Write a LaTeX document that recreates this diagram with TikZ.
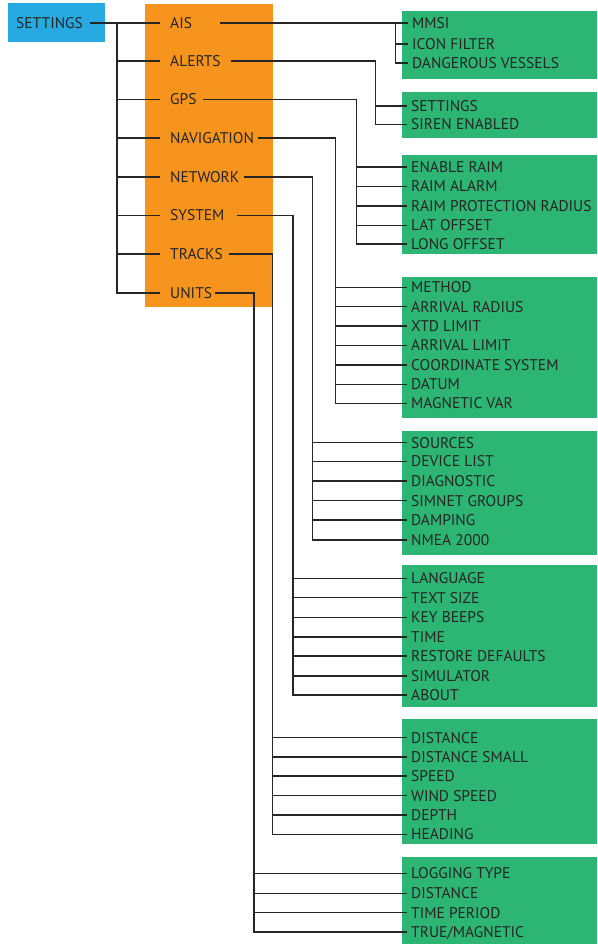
\documentclass[tikz,border=0pt]{standalone}
\usepackage{fontspec}
\setmainfont{PT Sans}
\usetikzlibrary{positioning}
\definecolor{rootblue}{RGB}{39,170,225}
\definecolor{menuorange}{RGB}{247,148,29}
\definecolor{leafgreen}{RGB}{44,181,115}
\definecolor{inkgray}{RGB}{38,38,38}

\begin{document}
\begin{tikzpicture}[
  x=1pt, y=-1pt,
  txt/.style={font=\fontsize{15.5}{17}\selectfont, text=inkgray, text height=10.8pt, text depth=0pt},
  rootbox/.style={txt, fill=rootblue, anchor=west, text width=81pt, inner xsep=8pt, inner ysep=0pt, minimum height=39pt, align=left},
  menu/.style={txt, anchor=west, inner sep=0pt},
  leaf/.style={txt, anchor=west, inner xsep=4pt, inner ysep=0pt},
  link/.style={draw=inkgray, line width=1.5pt}
]
  \useasboundingbox (0,0) rectangle (597,944);

  % Panels
  \fill[menuorange] (145,4) rectangle (273,307);
  \fill[leafgreen] (402,10.7) rectangle (597,79);
  \fill[leafgreen] (402,92) rectangle (597,138);
  \fill[leafgreen] (402,155) rectangle (597,254);
  \fill[leafgreen] (402,276.7) rectangle (597,418);
  \fill[leafgreen] (402,430.7) rectangle (597,554.7);
  \fill[leafgreen] (402,565) rectangle (597,706.7);
  \fill[leafgreen] (402,718.7) rectangle (597,844);
  \fill[leafgreen] (402,856.7) rectangle (597,944);

  % Root
  \node[rootbox] (settings) at (8,23) {SETTINGS};

  % Main menu
  \node[menu] (ais) at (170,23) {AIS};
  \node[menu] (alerts) at (170,61) {ALERTS};
  \node[menu] (gps) at (170,99.5) {GPS};
  \node[menu] (nav) at (170,138) {NAVIGATION};
  \node[menu] (network) at (170,177) {NETWORK};
  \node[menu] (system) at (170,215.5) {SYSTEM};
  \node[menu] (tracks) at (170,254) {TRACKS};
  \node[menu] (units) at (170,293) {UNITS};

  % Bus lines
  \coordinate (mainbus) at (117,0);
  \coordinate (aisbus) at (395.7,0);
  \coordinate (alertsbus) at (375.7,0);
  \coordinate (gpsbus) at (356.7,0);
  \coordinate (navbus) at (335.3,0);
  \coordinate (networkbus) at (312.7,0);
  \coordinate (systembus) at (293,0);
  \coordinate (tracksbus) at (272.7,0);
  \coordinate (unitsbus) at (254,0);

  \draw[link] ([xshift=-15pt]settings.east) -- ([xshift=-10pt]ais.west);
  \draw[link] (settings -| mainbus) |- ([xshift=-10pt]alerts.west);
  \draw[link] (settings -| mainbus) |- ([xshift=-10pt]gps.west);
  \draw[link] (settings -| mainbus) |- ([xshift=-10pt]nav.west);
  \draw[link] (settings -| mainbus) |- ([xshift=-10pt]network.west);
  \draw[link] (settings -| mainbus) |- ([xshift=-10pt]system.west);
  \draw[link] (settings -| mainbus) |- ([xshift=-10pt]tracks.west);
  \draw[link] (settings -| mainbus) |- ([xshift=-10pt]units.west);

  % AIS
  \node[leaf] (mmsi) at (408,23) {MMSI};
  \node[leaf] (iconfilter) at (408,44) {ICON FILTER};
  \node[leaf] (dangerous) at (408,63) {DANGEROUS VESSELS};

  \draw[link] ([xshift=28pt]ais.east) -- (mmsi.west);
  \draw[link] (ais -| aisbus) |- (iconfilter.west);
  \draw[link] (ais -| aisbus) |- (dangerous.west);

  % Alerts
  \node[leaf] (alsettings) at (407,106) {SETTINGS};
  \node[leaf] (siren) at (407,124.5) {SIREN ENABLED};

  \draw[link] ([xshift=10pt]alerts.east) -| (alerts -| alertsbus) |- (alsettings.west);
  \draw[link] (alerts -| alertsbus) |- (siren.west);

  % GPS
  \node[leaf] (raim) at (407,167) {ENABLE RAIM};
  \node[leaf] (raimalarm) at (407,186.5) {RAIM ALARM};
  \node[leaf] (raimradius) at (407,206) {RAIM PROTECTION RADIUS};
  \node[leaf] (latoff) at (407,225.5) {LAT OFFSET};
  \node[leaf] (longoff) at (407,244) {LONG OFFSET};

  \draw[link] ([xshift=6pt]gps.east) -- (gps -| gpsbus) |- (raim.west);
  \draw[link] (gps -| gpsbus) |- (raimalarm.west);
  \draw[link] (gps -| gpsbus) |- (raimradius.west);
  \draw[link] (gps -| gpsbus) |- (latoff.west);
  \draw[link] (gps -| gpsbus) |- (longoff.west);

  % Navigation
  \node[leaf] (method) at (407,287.3) {METHOD};
  \node[leaf] (arrradius) at (407,306.7) {ARRIVAL RADIUS};
  \node[leaf] (xtd) at (407,326) {XTD LIMIT};
  \node[leaf] (arrlimit) at (407,345.3) {ARRIVAL LIMIT};
  \node[leaf] (coordsys) at (407,365) {COORDINATE SYSTEM};
  \node[leaf] (datum) at (407,384.5) {DATUM};
  \node[leaf] (magvar) at (407,403.5) {MAGNETIC VAR};

  \draw[link] ([xshift=4pt]nav.east) -- (nav -| navbus) |- (method.west);
  \draw[link] (nav -| navbus) |- (arrradius.west);
  \draw[link] (nav -| navbus) |- (xtd.west);
  \draw[link] (nav -| navbus) |- (arrlimit.west);
  \draw[link] (nav -| navbus) |- (coordsys.west);
  \draw[link] (nav -| navbus) |- (datum.west);
  \draw[link] (nav -| navbus) |- (magvar.west);

  % Network
  \node[leaf] (sources) at (407,442.7) {SOURCES};
  \node[leaf] (devlist) at (407,461.5) {DEVICE LIST};
  \node[leaf] (diag) at (407,481) {DIAGNOSTIC};
  \node[leaf] (simnet) at (407,500.7) {SIMNET GROUPS};
  \node[leaf] (damping) at (407,520) {DAMPING};
  \node[leaf] (nmea) at (407,540) {NMEA 2000};

  \draw[link] ([xshift=4pt]network.east) -- (network -| networkbus) |- (sources.west);
  \draw[link] (network -| networkbus) |- (devlist.west);
  \draw[link] (network -| networkbus) |- (diag.west);
  \draw[link] (network -| networkbus) |- (simnet.west);
  \draw[link] (network -| networkbus) |- (damping.west);
  \draw[link] (network -| networkbus) |- (nmea.west);

  % System
  \node[leaf] (language) at (407,578.3) {LANGUAGE};
  \node[leaf] (textsize) at (407,597.7) {TEXT SIZE};
  \node[leaf] (keybeeps) at (407,617.3) {KEY BEEPS};
  \node[leaf] (time) at (407,637) {TIME};
  \node[leaf] (restore) at (407,656) {RESTORE DEFAULTS};
  \node[leaf] (simulator) at (407,676) {SIMULATOR};
  \node[leaf] (about) at (407,695) {ABOUT};

  \draw[link] ([xshift=12pt]system.east) -- (system -| systembus) |- (language.west);
  \draw[link] (system -| systembus) |- (textsize.west);
  \draw[link] (system -| systembus) |- (keybeeps.west);
  \draw[link] (system -| systembus) |- (time.west);
  \draw[link] (system -| systembus) |- (restore.west);
  \draw[link] (system -| systembus) |- (simulator.west);
  \draw[link] (system -| systembus) |- (about.west);

  % Tracks
  \node[leaf] (udistance) at (407,737.7) {DISTANCE};
  \node[leaf] (udistsmall) at (407,757) {DISTANCE SMALL};
  \node[leaf] (speed) at (407,776) {SPEED};
  \node[leaf] (windspeed) at (407,795.7) {WIND SPEED};
  \node[leaf] (depth) at (407,815) {DEPTH};
  \node[leaf] (heading) at (407,834.3) {HEADING};

  \draw[link] ([xshift=6pt]tracks.east) -- (tracks -| tracksbus) |- (udistance.west);
  \draw[link] (tracks -| tracksbus) |- (udistsmall.west);
  \draw[link] (tracks -| tracksbus) |- (speed.west);
  \draw[link] (tracks -| tracksbus) |- (windspeed.west);
  \draw[link] (tracks -| tracksbus) |- (depth.west);
  \draw[link] (tracks -| tracksbus) |- (heading.west);

  % Units
  \node[leaf] (logtype) at (407,873.3) {LOGGING TYPE};
  \node[leaf] (tdistance) at (407,893.3) {DISTANCE};
  \node[leaf] (timeperiod) at (407,912.7) {TIME PERIOD};
  \node[leaf] (truemag) at (407,932) {TRUE/MAGNETIC};

  \draw[link] ([xshift=3pt]units.east) -- (units -| unitsbus) |- (logtype.west);
  \draw[link] (units -| unitsbus) |- (tdistance.west);
  \draw[link] (units -| unitsbus) |- (timeperiod.west);
  \draw[link] (units -| unitsbus) |- (truemag.west);
\end{tikzpicture}
\end{document}
